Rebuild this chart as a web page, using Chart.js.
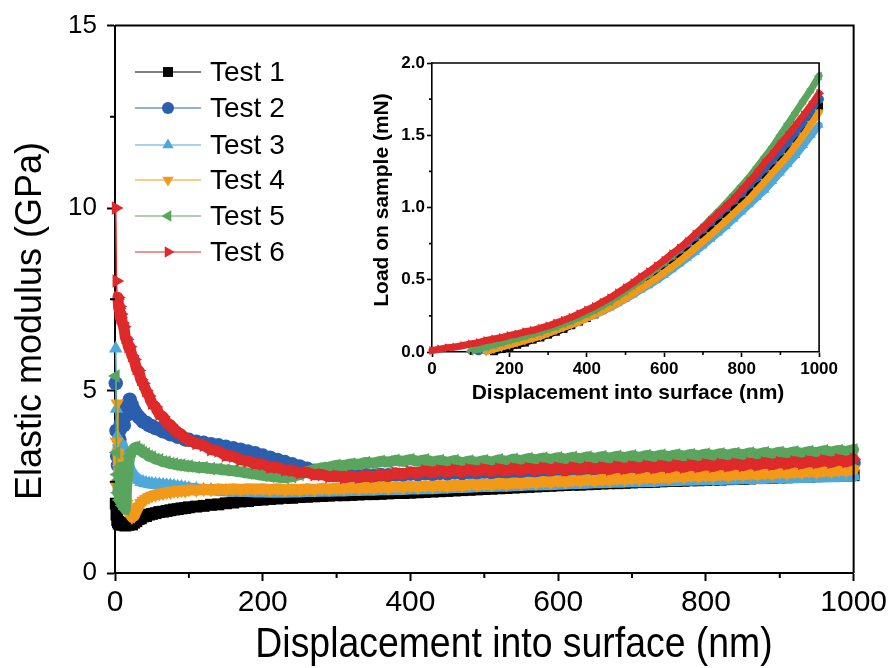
<!DOCTYPE html>
<html>
<head>
<meta charset="utf-8">
<script src="https://cdn.jsdelivr.net/npm/chart.js@4.4.1/dist/chart.umd.min.js"></script>
<style>
  body { margin: 0; background: #fff; }
  #wrap { position: relative; width: 891px; height: 668px; }
  #mainChart { position: absolute; left: 0; top: 0; }
  #insetChart { position: absolute; left: 340px; top: 45px; }
</style>
</head>
<body>
<div id="wrap">
  <canvas id="mainChart" width="891" height="668"></canvas>
  <canvas id="insetChart" width="500" height="375"></canvas>
</div>
<script>
// Displacement (nm) shared by all modulus curves
const depth = [1,2,3,4,5,6,7,8,10,12,14,16,18,20,23,26,29,32,35,38,42,46,50,55,60,65,70,75,80,85,90,95,100,
  110,120,130,140,150,160,170,180,190,200,
  210,220,230,240,250,260,270,280,290,300,
  310,320,330,340,350,360,370,380,390,400,
  410,420,430,440,450,460,470,480,490,500,
  510,520,530,540,550,560,570,580,590,600,
  610,620,630,640,650,660,670,680,690,700,
  710,720,730,740,750,760,770,780,790,800,
  810,820,830,840,850,860,870,880,890,900,
  910,920,930,940,950,960,970,980,990,1000];

// Elastic modulus (GPa)
const test1 = [1.9,1.6,1.45,1.4,1.35,1.38,1.33,1.36,1.32,1.35,1.3,1.34,1.32,1.35,1.33,1.38,1.42,1.48,1.5,1.55,1.56,1.6,1.62,1.64,1.67,1.68,1.7,1.72,1.74,1.75,1.77,1.78,1.8,
  1.82,1.84,1.87,1.88,1.91,1.93,1.96,1.97,2.0,2.01,
  2.03,2.04,2.06,2.06,2.08,2.09,2.1,2.11,2.12,2.13,
  2.13,2.14,2.15,2.16,2.16,2.17,2.18,2.19,2.19,2.2,
  2.21,2.22,2.23,2.24,2.25,2.26,2.27,2.28,2.29,2.3,
  2.31,2.32,2.33,2.34,2.35,2.36,2.37,2.38,2.39,2.4,
  2.41,2.42,2.42,2.43,2.44,2.45,2.46,2.46,2.47,2.48,
  2.49,2.49,2.5,2.51,2.52,2.52,2.53,2.54,2.54,2.55,
  2.56,2.56,2.57,2.58,2.58,2.59,2.6,2.6,2.61,2.62,
  2.62,2.63,2.64,2.64,2.65,2.66,2.66,2.67,2.67,2.68];
const test2 = [5.2,3.9,3.2,2.95,3.3,3.65,3.95,4.1,4.3,4.05,4.45,4.6,4.35,4.75,4.6,4.45,4.35,4.28,4.22,4.15,4.12,4.05,4.02,3.97,3.94,3.88,3.86,3.8,3.79,3.73,3.72,3.66,3.65,
  3.6,3.57,3.53,3.5,3.46,3.42,3.38,3.33,3.28,3.22,
  3.16,3.1,3.04,2.98,2.92,2.86,2.8,2.76,2.72,2.69,
  2.66,2.67,2.65,2.68,2.66,2.69,2.68,2.7,2.69,2.72,
  2.7,2.73,2.71,2.74,2.72,2.75,2.73,2.76,2.74,2.77,
  2.75,2.78,2.76,2.79,2.77,2.8,2.78,2.81,2.79,2.82,
  2.8,2.83,2.81,2.84,2.82,2.85,2.83,2.86,2.84,2.87,
  2.85,2.88,2.86,2.89,2.87,2.9,2.88,2.91,2.89,2.92,
  2.9,2.93,2.91,2.94,2.92,2.95,2.93,2.96,2.94,2.97,
  2.95,2.98,2.96,2.99,2.97,3.0,2.98,3.01,2.99,3.02];
const test3 = [6.15,4.5,3.75,3.4,3.6,3.1,3.45,3.3,3.5,3.2,3.3,3.05,3.0,2.85,2.75,2.65,2.6,2.55,2.5,2.5,2.47,2.46,2.45,2.44,2.43,2.42,2.41,2.4,2.39,2.37,2.36,2.34,2.33,
  2.31,2.29,2.28,2.26,2.25,2.24,2.23,2.23,2.22,2.22,
  2.21,2.22,2.21,2.22,2.22,2.23,2.23,2.24,2.24,2.25,
  2.25,2.26,2.26,2.27,2.27,2.28,2.28,2.29,2.29,2.3,
  2.3,2.31,2.31,2.32,2.33,2.34,2.34,2.35,2.36,2.37,
  2.37,2.38,2.38,2.39,2.4,2.41,2.41,2.42,2.42,2.43,
  2.44,2.45,2.45,2.46,2.47,2.47,2.48,2.49,2.49,2.5,
  2.5,2.51,2.51,2.52,2.53,2.53,2.54,2.54,2.55,2.55,
  2.56,2.56,2.57,2.57,2.58,2.58,2.59,2.59,2.6,2.6,
  2.61,2.61,2.62,2.62,2.63,2.63,2.64,2.64,2.65,2.65];
const test4 = [2.4,3.6,4.65,3.3,2.85,2.5,2.9,2.2,2.6,2.0,2.4,1.9,1.75,1.62,1.53,1.56,1.7,1.82,1.92,1.98,2.04,2.08,2.12,2.14,2.17,2.18,2.21,2.21,2.24,2.24,2.26,2.25,2.28,
  2.27,2.29,2.28,2.3,2.29,2.31,2.29,2.31,2.3,2.31,
  2.29,2.31,2.28,2.3,2.28,2.31,2.29,2.32,2.3,2.33,
  2.31,2.34,2.32,2.35,2.33,2.36,2.34,2.37,2.35,2.38,
  2.36,2.39,2.37,2.4,2.38,2.41,2.39,2.43,2.41,2.44,
  2.42,2.46,2.44,2.47,2.45,2.49,2.47,2.51,2.49,2.53,
  2.5,2.54,2.52,2.56,2.53,2.57,2.55,2.59,2.57,2.6,
  2.58,2.62,2.6,2.63,2.61,2.65,2.63,2.67,2.65,2.68,
  2.66,2.7,2.67,2.71,2.69,2.73,2.7,2.74,2.72,2.76,
  2.73,2.77,2.75,2.79,2.76,2.8,2.78,2.82,2.8,2.84];
const test5 = [5.4,3.3,2.7,2.2,2.55,2.0,2.9,2.3,1.85,2.15,1.75,2.45,2.9,3.2,3.35,3.42,3.45,3.38,3.36,3.3,3.27,3.2,3.18,3.12,3.1,3.05,3.04,3.0,2.99,2.96,2.96,2.93,2.93,
  2.9,2.89,2.86,2.85,2.82,2.8,2.77,2.74,2.71,2.68,
  2.65,2.63,2.61,2.64,2.7,2.78,2.83,2.88,2.9,2.95,
  2.94,2.99,2.98,3.03,3.01,3.06,3.04,3.09,3.06,3.11,
  3.06,3.1,3.04,3.08,3.03,3.08,3.02,3.07,3.03,3.08,
  3.04,3.1,3.06,3.12,3.08,3.14,3.1,3.15,3.11,3.16,
  3.12,3.17,3.13,3.18,3.14,3.19,3.15,3.2,3.16,3.21,
  3.17,3.22,3.18,3.23,3.19,3.24,3.2,3.25,3.21,3.26,
  3.22,3.27,3.23,3.28,3.24,3.29,3.25,3.3,3.26,3.31,
  3.27,3.32,3.28,3.33,3.3,3.35,3.31,3.36,3.33,3.38];
const test6 = [10.0,8.0,7.5,7.55,7.25,7.3,7.0,7.1,6.85,6.75,6.45,6.4,6.2,6.2,5.95,5.85,5.6,5.55,5.3,5.2,5.0,4.85,4.65,4.55,4.35,4.28,4.12,4.06,3.95,3.86,3.8,3.7,3.64,
  3.55,3.5,3.38,3.34,3.22,3.2,3.1,3.07,3.0,2.98,
  2.9,2.89,2.82,2.81,2.75,2.76,2.69,2.7,2.64,2.66,
  2.61,2.65,2.62,2.66,2.64,2.69,2.67,2.73,2.71,2.77,
  2.74,2.8,2.76,2.81,2.77,2.82,2.78,2.83,2.79,2.84,
  2.79,2.85,2.8,2.86,2.81,2.87,2.82,2.88,2.83,2.88,
  2.82,2.89,2.84,2.9,2.85,2.89,2.84,2.91,2.86,2.92,
  2.87,2.93,2.88,2.94,2.89,2.95,2.9,2.96,2.91,2.97,
  2.92,2.98,2.93,2.99,2.94,3.0,2.96,3.02,2.97,3.03,
  2.99,3.05,3.0,3.06,3.02,3.08,3.03,3.1,3.05,3.12];

// Load-displacement curves for the inset (mN); null = before contact
const loadDepth = [0,20,40,60,80,100,120,140,160,180,200,220,240,260,280,300,320,340,360,380,400,
  420,440,460,480,500,520,540,560,580,600,620,640,660,680,700,720,740,760,780,800,
  820,840,860,880,900,920,940,960,980,1000];
const load1 = [null,null,null,null,null,null,null,null,0.005,0.02,0.035,0.05,0.065,0.085,0.1,0.12,0.14,0.16,0.185,0.21,0.235,
  0.26,0.29,0.32,0.355,0.39,0.43,0.47,0.51,0.55,0.59,0.635,0.68,0.725,0.77,0.82,0.87,0.92,0.97,1.02,1.07,
  1.12,1.18,1.24,1.3,1.36,1.42,1.48,1.55,1.62,1.7];
const load2 = [null,null,null,null,null,null,0.01,0.025,0.04,0.055,0.07,0.085,0.1,0.12,0.14,0.155,0.175,0.195,0.22,0.245,0.27,
  0.295,0.325,0.355,0.39,0.425,0.46,0.5,0.54,0.58,0.62,0.665,0.71,0.755,0.8,0.85,0.9,0.95,1.0,1.05,1.1,
  1.16,1.21,1.27,1.33,1.39,1.45,1.52,1.59,1.67,1.75];
const load3 = [null,null,null,null,null,null,null,0.005,0.02,0.035,0.05,0.065,0.08,0.095,0.11,0.13,0.15,0.17,0.19,0.21,0.235,
  0.255,0.28,0.305,0.335,0.365,0.395,0.43,0.46,0.495,0.53,0.57,0.61,0.65,0.69,0.735,0.78,0.825,0.87,0.92,0.97,
  1.02,1.07,1.12,1.18,1.24,1.3,1.36,1.43,1.5,1.57];
const load4 = [null,null,null,null,null,null,null,0.005,0.02,0.035,0.05,0.065,0.08,0.095,0.11,0.13,0.15,0.17,0.19,0.21,0.235,
  0.26,0.285,0.31,0.34,0.37,0.405,0.44,0.475,0.51,0.55,0.59,0.63,0.675,0.72,0.765,0.81,0.86,0.91,0.96,1.01,
  1.06,1.12,1.18,1.24,1.3,1.36,1.43,1.5,1.58,1.66];
const load5 = [null,null,null,null,null,0.005,0.02,0.035,0.05,0.065,0.08,0.095,0.11,0.125,0.14,0.16,0.175,0.195,0.215,0.24,0.265,
  0.29,0.32,0.35,0.385,0.42,0.46,0.5,0.54,0.58,0.625,0.67,0.715,0.765,0.815,0.865,0.92,0.975,1.03,1.09,1.15,
  1.21,1.28,1.35,1.42,1.5,1.58,1.66,1.74,1.82,1.91];
const load6 = [0.01,0.02,0.03,0.035,0.045,0.055,0.065,0.08,0.09,0.1,0.115,0.125,0.14,0.15,0.165,0.18,0.2,0.22,0.24,0.265,0.29,
  0.315,0.345,0.375,0.41,0.445,0.48,0.52,0.555,0.595,0.635,0.68,0.72,0.765,0.815,0.86,0.91,0.96,1.01,1.06,1.12,
  1.18,1.24,1.31,1.37,1.44,1.5,1.57,1.64,1.71,1.79];

const seriesNames = ['Test 1', 'Test 2', 'Test 3', 'Test 4', 'Test 5', 'Test 6'];
const seriesColors = ['#000000', '#2c5eae', '#4fa8da', '#f29a18', '#5aa55e', '#de2a2a'];
const markerStyles = ['rect', 'circle', 'triangle', 'triangle', 'triangle', 'triangle'];
const markerRotation = [0, 0, 0, 180, 270, 90];
const markerRadius = [7, 6, 6.5, 6.5, 6.5, 6.5];

const modulusData = [test1, test2, test3, test4, test5, test6];
const loadData = [load1, load2, load3, load4, load5, load6];

const FONT = '"Liberation Sans", Arial, sans-serif';

function pairs(xs, ys) {
  const out = [];
  xs.forEach((x, i) => { if (ys[i] !== null) out.push({ x: x, y: ys[i] }); });
  return out;
}

// thinFirst: number of leading segments drawn with a hairline (scattered first contacts)
function makeDatasets(xs, yList, radiusScale, lineW, thinFirst) {
  return yList.map((ys, i) => ({
    label: seriesNames[i],
    data: pairs(xs, ys),
    showLine: true,
    borderColor: seriesColors[i],
    backgroundColor: seriesColors[i],
    borderWidth: lineW,
    borderJoinStyle: 'round',
    borderCapStyle: 'round',
    segment: {
      borderWidth: c => (c.p0DataIndex < thinFirst ? 1.5 : lineW)
    },
    pointStyle: markerStyles[i],
    pointRotation: markerRotation[i],
    pointRadius: markerRadius[i] * radiusScale,
    pointBorderWidth: 0,
    order: 6 - i, // later tests sit on top
    clip: false
  }));
}

function drawMarker(ctx, i, x, y, r) {
  ctx.fillStyle = seriesColors[i];
  ctx.strokeStyle = seriesColors[i];
  Chart.helpers.drawPoint(ctx, {
    pointStyle: markerStyles[i], rotation: markerRotation[i], radius: r, borderWidth: 0
  }, x, y);
}

// frame on top/right plus minor ticks on the two axes
function frameAndMinor(chart, xMinor, yMinor, minorLen, lw) {
  const { ctx, chartArea: a, scales } = chart;
  ctx.save();
  ctx.strokeStyle = '#000';
  ctx.lineWidth = lw;
  ctx.beginPath();
  ctx.moveTo(a.left, a.top); ctx.lineTo(a.right, a.top); ctx.lineTo(a.right, a.bottom);
  xMinor.forEach(v => {
    const px = scales.x.getPixelForValue(v);
    ctx.moveTo(px, a.bottom); ctx.lineTo(px, a.bottom + minorLen);
  });
  yMinor.forEach(v => {
    const py = scales.y.getPixelForValue(v);
    ctx.moveTo(a.left, py); ctx.lineTo(a.left - minorLen, py);
  });
  ctx.stroke();
  ctx.restore();
}

const mainDecor = {
  id: 'mainDecor',
  afterDraw(chart) {
    const ctx = chart.ctx;
    frameAndMinor(chart, [100, 300, 500, 700, 900], [2.5, 7.5, 12.5], 5, 2);
    ctx.save();
    ctx.fillStyle = '#000';
    // axis titles
    ctx.font = '36px ' + FONT;
    ctx.textAlign = 'center';
    ctx.textBaseline = 'middle';
    ctx.save();
    ctx.translate(31, 321);
    ctx.rotate(-Math.PI / 2);
    ctx.fillText('Elastic modulus (GPa)', 0, 0);
    ctx.restore();
    ctx.save();
    ctx.translate(514, 645);
    ctx.scale(0.89, 1);
    ctx.font = '42px ' + FONT;
    ctx.fillText('Displacement into surface (nm)', 0, 0);
    ctx.restore();
    // legend
    ctx.font = '28px ' + FONT;
    ctx.textAlign = 'left';
    const rows = [72, 108, 145, 180, 216, 252];
    seriesNames.forEach((name, i) => {
      const y = rows[i];
      ctx.strokeStyle = seriesColors[i];
      ctx.lineWidth = 1.2;
      ctx.beginPath();
      ctx.moveTo(135, y); ctx.lineTo(201, y);
      ctx.stroke();
      drawMarker(ctx, i, 168, y, markerRadius[i]);
      ctx.fillStyle = '#000';
      ctx.fillText(name, 210, y + 1);
    });
    ctx.restore();
  }
};

new Chart(document.getElementById('mainChart'), {
  type: 'scatter',
  data: { datasets: makeDatasets(depth, modulusData, 1.2, 11, 3) },
  options: {
    responsive: false,
    animation: false,
    layout: { padding: { left: 0, top: 25, right: 37, bottom: 0 } },
    plugins: { legend: { display: false }, tooltip: { enabled: false } },
    scales: {
      x: {
        type: 'linear', min: 0, max: 1000,
        afterFit: s => { s.height = 95; },
        ticks: { stepSize: 200, font: { size: 30, family: FONT }, color: '#000', padding: 4, maxRotation: 0,
          callback: v => String(v) },
        grid: { drawOnChartArea: false, drawTicks: true, tickLength: 8, tickWidth: 2, tickColor: '#000' },
        border: { display: true, color: '#000', width: 2 }
      },
      y: {
        type: 'linear', min: 0, max: 15,
        afterFit: s => { s.width = 115; },
        ticks: { stepSize: 5, font: { size: 26, family: FONT }, color: '#000', padding: 10 },
        grid: { drawOnChartArea: false, drawTicks: true, tickLength: 8, tickWidth: 2, tickColor: '#000' },
        border: { display: true, color: '#000', width: 2 }
      }
    }
  },
  plugins: [mainDecor]
});

const insetDecor = {
  id: 'insetDecor',
  afterDraw(chart) {
    const ctx = chart.ctx;
    frameAndMinor(chart, [100, 300, 500, 700, 900], [0.25, 0.75, 1.25, 1.75], 3, 1.6);
    ctx.save();
    ctx.fillStyle = '#000';
    ctx.font = 'bold 21px ' + FONT;
    ctx.textAlign = 'center';
    ctx.textBaseline = 'middle';
    ctx.save();
    ctx.translate(42, 155);
    ctx.rotate(-Math.PI / 2);
    ctx.fillText('Load on sample (mN)', 0, 0);
    ctx.restore();
    ctx.fillText('Displacement into surface (nm)', 288, 348);
    ctx.restore();
  }
};

new Chart(document.getElementById('insetChart'), {
  type: 'scatter',
  data: { datasets: makeDatasets(loadDepth, loadData, 0.8, 7, 0) },
  options: {
    responsive: false,
    animation: false,
    layout: { padding: { left: 0, top: 18, right: 17, bottom: 0 } },
    plugins: { legend: { display: false }, tooltip: { enabled: false } },
    scales: {
      x: {
        type: 'linear', min: 0, max: 1000,
        afterFit: s => { s.height = 68; },
        ticks: { stepSize: 200, font: { size: 17, weight: 'bold', family: FONT }, color: '#000', padding: 2, maxRotation: 0,
          callback: v => String(v) },
        grid: { drawOnChartArea: false, drawTicks: true, tickLength: 5, tickWidth: 1.6, tickColor: '#000' },
        border: { display: true, color: '#000', width: 1.6 }
      },
      y: {
        type: 'linear', min: 0, max: 2,
        afterFit: s => { s.width = 92; },
        ticks: { stepSize: 0.5, font: { size: 17, weight: 'bold', family: FONT }, color: '#000', padding: 2,
          callback: v => v.toFixed(1) },
        grid: { drawOnChartArea: false, drawTicks: true, tickLength: 5, tickWidth: 1.6, tickColor: '#000' },
        border: { display: true, color: '#000', width: 1.6 }
      }
    }
  },
  plugins: [insetDecor]
});
</script>
</body>
</html>
